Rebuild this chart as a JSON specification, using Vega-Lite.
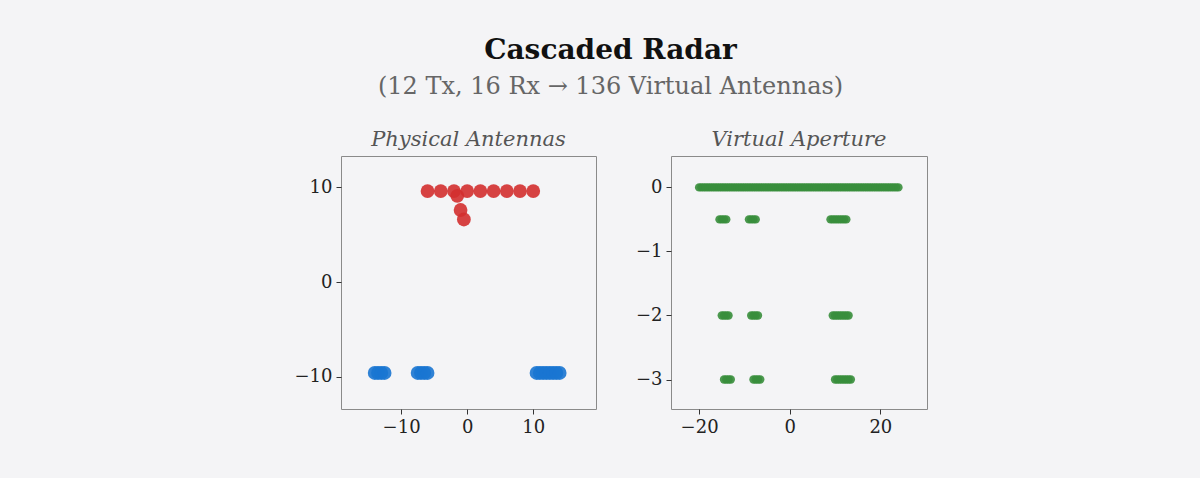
{
  "$schema": "https://vega.github.io/schema/vega-lite/v6.json",
  "background": "#f4f4f6",
  "padding": {"left": 293, "top": 36, "right": 274, "bottom": 44},
  "title": {
    "text": "Cascaded Radar",
    "subtitle": "(12 Tx, 16 Rx → 136 Virtual Antennas)",
    "anchor": "middle",
    "font": "DejaVu Serif",
    "fontSize": 28,
    "fontWeight": "bold",
    "fontStyle": "normal",
    "color": "#111111",
    "subtitleFont": "DejaVu Serif",
    "subtitleFontSize": 24,
    "subtitleFontStyle": "normal",
    "subtitleColor": "#666666",
    "subtitlePadding": 10,
    "offset": 30
  },
  "datasets": {
    "phys": [
      {"kind": "Tx", "x": -6, "y": 9.6},
      {"kind": "Tx", "x": -4, "y": 9.6},
      {"kind": "Tx", "x": -2, "y": 9.6},
      {"kind": "Tx", "x": 0, "y": 9.6},
      {"kind": "Tx", "x": 2, "y": 9.6},
      {"kind": "Tx", "x": 4, "y": 9.6},
      {"kind": "Tx", "x": 6, "y": 9.6},
      {"kind": "Tx", "x": 8, "y": 9.6},
      {"kind": "Tx", "x": 10, "y": 9.6},
      {"kind": "Tx", "x": -1.5, "y": 9.1},
      {"kind": "Tx", "x": -1, "y": 7.6},
      {"kind": "Tx", "x": -0.5, "y": 6.6},
      {"kind": "Rx", "x": -14, "y": -9.6},
      {"kind": "Rx", "x": -13.5, "y": -9.6},
      {"kind": "Rx", "x": -13, "y": -9.6},
      {"kind": "Rx", "x": -12.5, "y": -9.6},
      {"kind": "Rx", "x": -7.5, "y": -9.6},
      {"kind": "Rx", "x": -7, "y": -9.6},
      {"kind": "Rx", "x": -6.5, "y": -9.6},
      {"kind": "Rx", "x": -6, "y": -9.6},
      {"kind": "Rx", "x": 10.5, "y": -9.6},
      {"kind": "Rx", "x": 11, "y": -9.6},
      {"kind": "Rx", "x": 11.5, "y": -9.6},
      {"kind": "Rx", "x": 12, "y": -9.6},
      {"kind": "Rx", "x": 12.5, "y": -9.6},
      {"kind": "Rx", "x": 13, "y": -9.6},
      {"kind": "Rx", "x": 13.5, "y": -9.6},
      {"kind": "Rx", "x": 14, "y": -9.6}
    ],
    "virt": [
      {"x": -20, "y": 0}, {"x": -19.5, "y": 0}, {"x": -19, "y": 0}, {"x": -18.5, "y": 0},
      {"x": -18, "y": 0}, {"x": -17.5, "y": 0}, {"x": -17, "y": 0}, {"x": -16.5, "y": 0},
      {"x": -16, "y": 0}, {"x": -15.5, "y": 0}, {"x": -15, "y": 0}, {"x": -14.5, "y": 0},
      {"x": -14, "y": 0}, {"x": -13.5, "y": 0}, {"x": -13, "y": 0}, {"x": -12.5, "y": 0},
      {"x": -12, "y": 0}, {"x": -11.5, "y": 0}, {"x": -11, "y": 0}, {"x": -10.5, "y": 0},
      {"x": -10, "y": 0}, {"x": -9.5, "y": 0}, {"x": -9, "y": 0}, {"x": -8.5, "y": 0},
      {"x": -8, "y": 0}, {"x": -7.5, "y": 0}, {"x": -7, "y": 0}, {"x": -6.5, "y": 0},
      {"x": -6, "y": 0}, {"x": -5.5, "y": 0}, {"x": -5, "y": 0}, {"x": -4.5, "y": 0},
      {"x": -4, "y": 0}, {"x": -3.5, "y": 0}, {"x": -3, "y": 0}, {"x": -2.5, "y": 0},
      {"x": -2, "y": 0}, {"x": -1.5, "y": 0}, {"x": -1, "y": 0}, {"x": -0.5, "y": 0},
      {"x": 0, "y": 0}, {"x": 0.5, "y": 0}, {"x": 1, "y": 0}, {"x": 1.5, "y": 0},
      {"x": 2, "y": 0}, {"x": 2.5, "y": 0}, {"x": 3, "y": 0}, {"x": 3.5, "y": 0},
      {"x": 4, "y": 0}, {"x": 4.5, "y": 0}, {"x": 5, "y": 0}, {"x": 5.5, "y": 0},
      {"x": 6, "y": 0}, {"x": 6.5, "y": 0}, {"x": 7, "y": 0}, {"x": 7.5, "y": 0},
      {"x": 8, "y": 0}, {"x": 8.5, "y": 0}, {"x": 9, "y": 0}, {"x": 9.5, "y": 0},
      {"x": 10, "y": 0}, {"x": 10.5, "y": 0}, {"x": 11, "y": 0}, {"x": 11.5, "y": 0},
      {"x": 12, "y": 0}, {"x": 12.5, "y": 0}, {"x": 13, "y": 0}, {"x": 13.5, "y": 0},
      {"x": 14, "y": 0}, {"x": 14.5, "y": 0}, {"x": 15, "y": 0}, {"x": 15.5, "y": 0},
      {"x": 16, "y": 0}, {"x": 16.5, "y": 0}, {"x": 17, "y": 0}, {"x": 17.5, "y": 0},
      {"x": 18, "y": 0}, {"x": 18.5, "y": 0}, {"x": 19, "y": 0}, {"x": 19.5, "y": 0},
      {"x": 20, "y": 0}, {"x": 20.5, "y": 0}, {"x": 21, "y": 0}, {"x": 21.5, "y": 0},
      {"x": 22, "y": 0}, {"x": 22.5, "y": 0}, {"x": 23, "y": 0}, {"x": 23.5, "y": 0},
      {"x": 24, "y": 0},
      {"x": -15.5, "y": -0.5}, {"x": -15, "y": -0.5}, {"x": -14.5, "y": -0.5}, {"x": -14, "y": -0.5},
      {"x": -9, "y": -0.5}, {"x": -8.5, "y": -0.5}, {"x": -8, "y": -0.5}, {"x": -7.5, "y": -0.5},
      {"x": 9, "y": -0.5}, {"x": 9.5, "y": -0.5}, {"x": 10, "y": -0.5}, {"x": 10.5, "y": -0.5},
      {"x": 11, "y": -0.5}, {"x": 11.5, "y": -0.5}, {"x": 12, "y": -0.5}, {"x": 12.5, "y": -0.5},
      {"x": -15, "y": -2}, {"x": -14.5, "y": -2}, {"x": -14, "y": -2}, {"x": -13.5, "y": -2},
      {"x": -8.5, "y": -2}, {"x": -8, "y": -2}, {"x": -7.5, "y": -2}, {"x": -7, "y": -2},
      {"x": 9.5, "y": -2}, {"x": 10, "y": -2}, {"x": 10.5, "y": -2}, {"x": 11, "y": -2},
      {"x": 11.5, "y": -2}, {"x": 12, "y": -2}, {"x": 12.5, "y": -2}, {"x": 13, "y": -2},
      {"x": -14.5, "y": -3}, {"x": -14, "y": -3}, {"x": -13.5, "y": -3}, {"x": -13, "y": -3},
      {"x": -8, "y": -3}, {"x": -7.5, "y": -3}, {"x": -7, "y": -3}, {"x": -6.5, "y": -3},
      {"x": 10, "y": -3}, {"x": 10.5, "y": -3}, {"x": 11, "y": -3}, {"x": 11.5, "y": -3},
      {"x": 12, "y": -3}, {"x": 12.5, "y": -3}, {"x": 13, "y": -3}, {"x": 13.5, "y": -3}
    ]
  },
  "config": {
    "view": {"stroke": "#8a8a8a", "strokeWidth": 1, "fill": "#f4f4f6"},
    "font": "DejaVu Serif",
    "axis": {
      "domain": false,
      "grid": false,
      "ticks": true,
      "tickSize": 5,
      "tickColor": "#333333",
      "tickWidth": 1,
      "labelFont": "DejaVu Serif",
      "labelFontSize": 18,
      "labelColor": "#222222",
      "labelPadding": 4,
      "title": null
    },
    "title": {
      "font": "DejaVu Serif",
      "fontSize": 21,
      "fontStyle": "italic",
      "fontWeight": "normal",
      "color": "#555555",
      "offset": 6
    },
    "concat": {"spacing": 37}
  },
  "hconcat": [
    {
      "title": "Physical Antennas",
      "width": 255,
      "height": 253,
      "data": {"name": "phys"},
      "mark": {"type": "point", "filled": true, "size": 190, "opacity": 0.9},
      "encoding": {
        "x": {"field": "x", "type": "quantitative", "scale": {"domain": [-19.1, 19.5], "nice": false, "zero": false},
              "axis": {"values": [-10, 0, 10], "title": null}},
        "y": {"field": "y", "type": "quantitative", "scale": {"domain": [-13.4, 13.3], "nice": false, "zero": false},
              "axis": {"values": [-10, 0, 10], "title": null}},
        "color": {"field": "kind", "type": "nominal", "scale": {"domain": ["Tx", "Rx"], "range": ["#d32f2f", "#1976d2"]}, "legend": null}
      }
    },
    {
      "title": "Virtual Aperture",
      "width": 256,
      "height": 253,
      "data": {"name": "virt"},
      "mark": {"type": "point", "filled": true, "size": 70, "opacity": 0.9, "color": "#388e3c"},
      "encoding": {
        "x": {"field": "x", "type": "quantitative", "scale": {"domain": [-26.2, 30.3], "nice": false, "zero": false},
              "axis": {"values": [-20, 0, 20], "title": null}},
        "y": {"field": "y", "type": "quantitative", "scale": {"domain": [-3.46, 0.49], "nice": false, "zero": false},
              "axis": {"values": [-3, -2, -1, 0], "title": null}}
      }
    }
  ]
}
